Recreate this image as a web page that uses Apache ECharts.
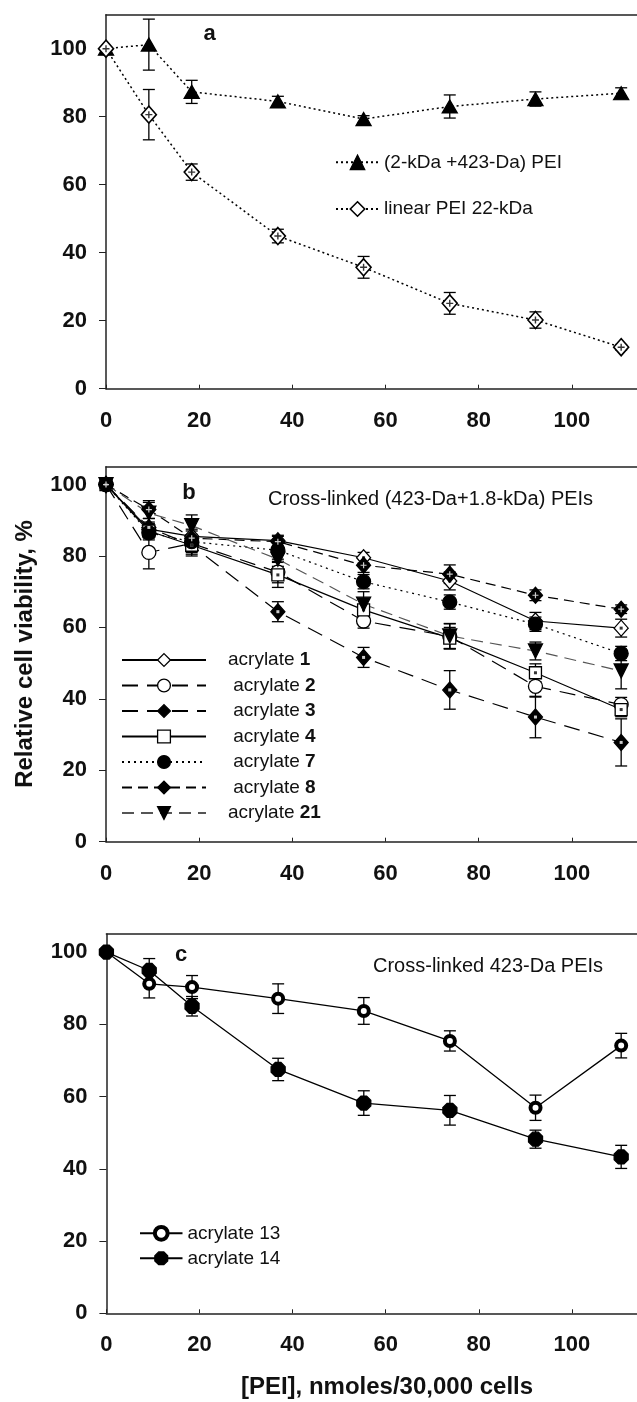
<!DOCTYPE html>
<html>
<head>
<meta charset="utf-8">
<script src="https://cdn.jsdelivr.net/npm/echarts@6/dist/echarts.min.js"></script>
<style>
html, body { margin: 0; padding: 0; background: #fff; }
#chart { width: 637px; height: 1402px; }
</style>
</head>
<body>
<div id="chart"></div>
<script>
// doses of PEI, nmoles/30,000 cells
var doses = [0, 9.2, 18.4, 36.9, 55.3, 73.8, 92.2, 110.6];
var xTicks = [0, 20, 40, 60, 80, 100];
var yTicks = [0, 20, 40, 60, 80, 100];

// panel a
var pei2k423 = [100, 101.2, 87.3, 84.5, 79.3, 83.0, 85.2, 86.9];
var pei2k423Err = [0, 7.5, 3.4, 1.5, 1.0, 3.4, 2.1, 1.6];
var linear22 = [100, 80.6, 63.7, 44.9, 35.7, 25.1, 20.2, 12.2];
var linear22Err = [0, 7.4, 2.4, 2.0, 3.2, 3.2, 2.4, 0.8];

// panel b
var acr1 = [100, 87.5, 85.5, 84.3, 79.5, 73.0, 61.8, 59.8];
var acr1Err = [0, 2, 2, 1.5, 1.5, 2.5, 2.4, 2.5];
var acr2 = [100, 81.0, 83.5, 75.5, 61.8, 57.5, 43.5, 38.4];
var acr2Err = [0, 4.6, 2.5, 3, 2, 3.5, 3, 2];
var acr3 = [100, 88.0, 83.0, 64.4, 51.6, 42.5, 34.9, 27.8];
var acr3Err = [0, 2.5, 2.5, 2.8, 2.8, 5.4, 5.8, 6.6];
var acr4 = [100, 87.0, 83.0, 74.7, 64.9, 57.0, 47.3, 37.0];
var acr4Err = [0, 2, 3, 3.5, 3, 3, 2.5, 2];
var acr7 = [100, 86.5, 84.0, 81.6, 72.8, 67.1, 60.9, 52.7];
var acr7Err = [0, 2, 2, 2.5, 2, 2, 2, 2];
var acr8 = [100, 93.0, 85.0, 84.0, 77.4, 74.9, 69.0, 65.1];
var acr8Err = [0, 2.5, 2, 1.5, 2, 2.6, 1.5, 1.2];
var acr21 = [100, 92.0, 88.5, 79.1, 66.5, 57.6, 53.4, 47.8];
var acr21Err = [0, 3, 3, 2, 3.5, 3.5, 2.5, 5];

// panel c
var acr13 = [100, 91.2, 90.3, 87.1, 83.7, 75.4, 56.9, 74.1];
var acr13Err = [0, 3.9, 3.2, 4.1, 3.7, 2.8, 3.5, 3.4];
var acr14 = [100, 94.9, 85.0, 67.5, 58.2, 56.2, 48.2, 43.3];
var acr14Err = [0, 3.3, 2.7, 3.1, 3.4, 4.1, 2.5, 3.2];

var FONT = "'Liberation Sans', Arial, sans-serif";
var plusPath = 'path://M4,0 L6,0 L6,4 L10,4 L10,6 L6,6 L6,10 L4,10 L4,6 L0,6 L0,4 L4,4 Z';
var octPath = 'path://M3,0 L7,0 L10,3 L10,7 L7,10 L3,10 L0,7 L0,3 Z';

function pairs(ys) {
    return doses.map(function (x, i) { return [x, ys[i]]; });
}

function bars(ys, es) {
    var out = [];
    for (var i = 0; i < doses.length; i++) {
        if (es[i] > 0) out.push([doses[i], ys[i] - es[i], ys[i] + es[i]]);
    }
    return out;
}

function errorBar(params, api) {
    var x = api.value(0);
    var lo = api.coord([x, api.value(1)]);
    var hi = api.coord([x, api.value(2)]);
    var w = 6;
    var st = { stroke: '#000', lineWidth: 1.3 };
    return {
        type: 'group',
        children: [
            { type: 'line', shape: { x1: lo[0], y1: lo[1], x2: hi[0], y2: hi[1] }, style: st },
            { type: 'line', shape: { x1: lo[0] - w, y1: lo[1], x2: lo[0] + w, y2: lo[1] }, style: st },
            { type: 'line', shape: { x1: hi[0] - w, y1: hi[1], x2: hi[0] + w, y2: hi[1] }, style: st }
        ]
    };
}

function errSeries(g, ys, es) {
    return {
        type: 'custom', xAxisIndex: g, yAxisIndex: g, z: 1, silent: true,
        renderItem: errorBar, encode: { x: 0, y: [1, 2] },
        data: bars(ys, es)
    };
}

function lineSeries(g, name, ys, sym, size, fill, dash, lineColor, width, border) {
    return {
        name: name, type: 'line', xAxisIndex: g, yAxisIndex: g, z: 3,
        data: pairs(ys), symbol: sym, symbolSize: size,
        itemStyle: { color: fill, borderColor: '#000', borderWidth: border || 1.3 },
        lineStyle: { color: lineColor || '#000', width: width || 1.2, type: dash },
        emphasis: { disabled: true }
    };
}

function dotSeries(g, ys, sym, size, color) {
    return {
        type: 'scatter', xAxisIndex: g, yAxisIndex: g, z: 4, silent: true,
        data: pairs(ys), symbol: sym, symbolSize: size,
        itemStyle: { color: color }
    };
}

function bottomAxis(g, max) {
    return {
        type: 'value', gridIndex: g, position: 'bottom', min: 0, max: max, interval: 20,
        axisLine: { show: true, onZero: false, lineStyle: { color: '#222', width: 1.5 } },
        axisTick: { show: true, inside: true, length: 4, customValues: xTicks, lineStyle: { color: '#222' } },
        axisLabel: { customValues: xTicks, margin: 21, color: '#111', fontSize: 22, fontWeight: 'bold', fontFamily: FONT },
        splitLine: { show: false }
    };
}

function topAxis(g, max) {
    return {
        type: 'value', gridIndex: g, position: 'top', min: 0, max: max,
        axisLine: { show: true, onZero: false, lineStyle: { color: '#222', width: 1.5 } },
        axisTick: { show: false }, axisLabel: { show: false }, splitLine: { show: false }
    };
}

function leftAxis(g, max) {
    return {
        type: 'value', gridIndex: g, min: 0, max: max, interval: 20,
        axisLine: { show: true, onZero: false, lineStyle: { color: '#222', width: 1.5 } },
        axisTick: { show: true, length: 7, customValues: yTicks, lineStyle: { color: '#222' } },
        axisLabel: { customValues: yTicks, margin: 19, color: '#111', fontSize: 22, fontWeight: 'bold', fontFamily: FONT },
        splitLine: { show: false }
    };
}

function boldNum(name) {
    var parts = name.split(' ');
    var lead = (name === 'acrylate 1' || name === 'acrylate 21') ? '' : ' ';
    return lead + '{t|' + parts[0] + '} {b|' + parts[1] + '}';
}

var chart = echarts.init(document.getElementById('chart'));

var option = {
    animation: false,
    backgroundColor: '#fff',
    grid: [
        { left: 106, top: 14.7, width: 531, height: 374 },
        { left: 106, top: 466.7, width: 531, height: 375 },
        { left: 106.4, top: 934, width: 537.6, height: 379.3 }
    ],
    xAxis: [
        bottomAxis(0, 114), bottomAxis(1, 114), bottomAxis(2, 114),
        topAxis(0, 114), topAxis(1, 114), topAxis(2, 114)
    ],
    yAxis: [leftAxis(0, 110), leftAxis(1, 105), leftAxis(2, 105)],
    legend: [
        {
            data: ['(2-kDa +423-Da) PEI', 'linear PEI 22-kDa'],
            orient: 'vertical', left: 335, top: 152.3, padding: 0,
            itemWidth: 43, itemHeight: 18, itemGap: 26.7, selectedMode: false,
            itemStyle: { borderWidth: 'inherit' },
            textStyle: { fontSize: 19, lineHeight: 20, color: '#111', fontFamily: FONT }
        },
        {
            data: ['acrylate 1', 'acrylate 2', 'acrylate 3', 'acrylate 4', 'acrylate 7', 'acrylate 8', 'acrylate 21'],
            orient: 'vertical', left: 121, top: 650, padding: 0,
            itemWidth: 84, itemHeight: 16, itemGap: 5.5, selectedMode: false,
            itemStyle: { borderWidth: 'inherit' },
            formatter: boldNum,
            textStyle: {
                fontSize: 19, lineHeight: 20, color: '#111', fontFamily: FONT, padding: [0, 0, 0, 17],
                rich: {
                    t: { fontSize: 19, color: '#111', fontFamily: FONT },
                    b: { fontSize: 19, color: '#111', fontWeight: 'bold', fontFamily: FONT }
                }
            }
        },
        {
            data: ['acrylate 13', 'acrylate 14'],
            orient: 'vertical', left: 139, top: 1223.3, padding: 0,
            itemWidth: 42.5, itemHeight: 16, itemGap: 5, selectedMode: false,
            itemStyle: { borderWidth: 'inherit' },
            textStyle: { fontSize: 19, lineHeight: 20, color: '#111', fontFamily: FONT }
        }
    ],
    graphic: [
        { type: 'text', x: 209.6, y: 34, style: { text: 'a', font: 'bold 22px ' + FONT, fill: '#111', align: 'center', verticalAlign: 'middle' } },
        { type: 'text', x: 189, y: 492.5, style: { text: 'b', font: 'bold 22px ' + FONT, fill: '#111', align: 'center', verticalAlign: 'middle' } },
        { type: 'text', x: 181, y: 955, style: { text: 'c', font: 'bold 22px ' + FONT, fill: '#111', align: 'center', verticalAlign: 'middle' } },
        { type: 'text', x: 268, y: 499, style: { text: 'Cross-linked (423-Da+1.8-kDa) PEIs', font: '20px ' + FONT, fill: '#111', align: 'left', verticalAlign: 'middle' } },
        { type: 'text', x: 373, y: 966.7, style: { text: 'Cross-linked 423-Da PEIs', font: '20px ' + FONT, fill: '#111', align: 'left', verticalAlign: 'middle' } },
        { type: 'text', x: 387, y: 1387, style: { text: '[PEI], nmoles/30,000 cells', font: 'bold 24px ' + FONT, fill: '#111', align: 'center', verticalAlign: 'middle' } },
        { type: 'text', x: 25, y: 654, rotation: Math.PI / 2, style: { text: 'Relative cell viability, %', font: 'bold 24px ' + FONT, fill: '#111', align: 'center', verticalAlign: 'middle' } }
    ],
    series: [
        // panel a
        errSeries(0, pei2k423, pei2k423Err),
        errSeries(0, linear22, linear22Err),
        lineSeries(0, '(2-kDa +423-Da) PEI', pei2k423, 'triangle', [15, 13], '#000', [2, 3], '#000', 1.5),
        lineSeries(0, 'linear PEI 22-kDa', linear22, 'diamond', [15, 17], '#fff', [2, 3], '#000', 1.5, 1.6),
        dotSeries(0, linear22, plusPath, 7, '#000'),

        // panel b
        errSeries(1, acr1, acr1Err), errSeries(1, acr2, acr2Err), errSeries(1, acr3, acr3Err),
        errSeries(1, acr4, acr4Err), errSeries(1, acr7, acr7Err), errSeries(1, acr8, acr8Err),
        errSeries(1, acr21, acr21Err),
        lineSeries(1, 'acrylate 1', acr1, 'diamond', [14, 16], '#fff', 'solid'),
        lineSeries(1, 'acrylate 2', acr2, 'circle', 14, '#fff', [16, 9]),
        lineSeries(1, 'acrylate 3', acr3, 'diamond', [14, 16], '#000', [16, 9]),
        lineSeries(1, 'acrylate 4', acr4, 'rect', 12, '#fff', 'solid'),
        lineSeries(1, 'acrylate 7', acr7, 'circle', 14, '#000', [2, 4]),
        lineSeries(1, 'acrylate 8', acr8, 'diamond', [14, 16], '#000', [10, 6]),
        lineSeries(1, 'acrylate 21', acr21, 'triangle', 14, '#000', [12, 7], '#555'),
        dotSeries(1, acr1, 'rect', 3, '#000'),
        dotSeries(1, acr3, 'rect', 3, '#fff'),
        dotSeries(1, acr4, 'rect', 3, '#000'),
        dotSeries(1, acr8, plusPath, 6, '#fff'),

        // panel c
        errSeries(2, acr13, acr13Err), errSeries(2, acr14, acr14Err),
        lineSeries(2, 'acrylate 13', acr13, 'circle', 10, '#fff', 'solid', '#000', 1.3, 4),
        lineSeries(2, 'acrylate 14', acr14, octPath, 14, '#000', 'solid', '#000', 1.3)
    ]
};

// inverted triangle for acrylate 21
option.series.forEach(function (s) {
    if (s.name === 'acrylate 21') s.symbolRotate = 180;
});

chart.setOption(option);
</script>
</body>
</html>
